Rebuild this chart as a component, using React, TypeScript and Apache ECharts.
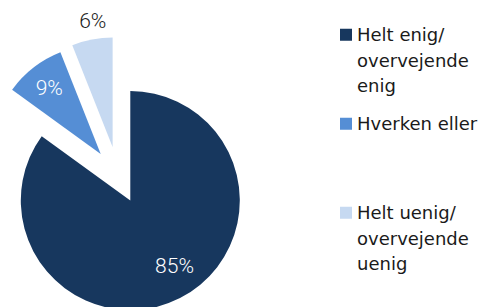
import React, { useEffect, useRef } from "react";
import * as echarts from "echarts";

const categories = [
  "Helt enig/ overvejende enig",
  "Hverken eller",
  "Helt uenig/ overvejende uenig",
];
const legendLines = [
  ["Helt enig/", "overvejende", "enig"],
  ["Hverken eller"],
  ["Helt uenig/", "overvejende", "uenig"],
];
const values = [85, 9, 6];
const colors = ["#17375E", "#558ED5", "#C6D9F1"];
const labelColors = ["#ffffff", "#ffffff", "#1a1a1a"];

// layout (positions of each exploded slice's apex and label nudges)
const sliceCenters = [
  [130.3, 200.5],
  [100.7, 154],
  [112.6, 147],
];
const labelOffsets = [
  [18, 14],
  [-16, -20],
  [-9, -69],
];
const RADIUS = 109.5;
const LINE_H = 25.5;
const ITEM_H = LINE_H * 3;

export default function App() {
  const ref = useRef<HTMLDivElement>(null);
  useEffect(() => {
    document.body.style.margin = "0";
    const chart = echarts.init(ref.current!, null, { renderer: "svg" });
    const series = values.map((_, k) => ({
      type: "pie",
      name: "s" + k,
      center: sliceCenters[k],
      radius: [0, RADIUS],
      startAngle: 90,
      clockwise: true,
      silent: true,
      avoidLabelOverlap: false,
      emphasis: { disabled: true },
      labelLine: { show: false },
      data: values.map((v, i) => ({
        name: categories[i],
        value: v,
        itemStyle: {
          color: i === k ? colors[i] : "rgba(0,0,0,0)",
          borderWidth: 0,
        },
        label: {
          show: i === k,
          position: "inside",
          formatter: "{c}%",
          color: labelColors[i],
          fontFamily: "Roboto",
          fontWeight: 300,
          fontSize: 21,
          offset: labelOffsets[i],
        },
      })),
    }));
    const iconPath =
      "path://M0,0L0.01,0L0.01,0.01L0,0.01Z M0,6.8H12V18.8H0Z M0,76.49L0.01,76.49L0.01,76.5L0,76.5Z";
    chart.setOption({
      animation: false,
      legend: {
        orient: "vertical",
        left: 340,
        top: 22,
        padding: 0,
        icon: iconPath,
        itemWidth: 12,
        itemHeight: ITEM_H,
        itemGap: 89 - ITEM_H,
        selectedMode: false,
        data: categories.map((c, i) => ({
          name: c,
          itemStyle: { color: colors[i] },
        })),
        formatter: (name: string) => {
          const idx = categories.indexOf(name);
          const lines = legendLines[idx].slice();
          while (lines.length < 3) lines.push(" ");
          return lines.join("\n");
        },
        textStyle: {
          fontFamily: "DejaVu Sans",
          fontSize: 18,
          lineHeight: LINE_H,
          color: "#1a1a1a",
        },
      },
      series,
    });
    return () => chart.dispose();
  }, []);
  return <div ref={ref} style={{ width: 481, height: 307 }} />;
}
